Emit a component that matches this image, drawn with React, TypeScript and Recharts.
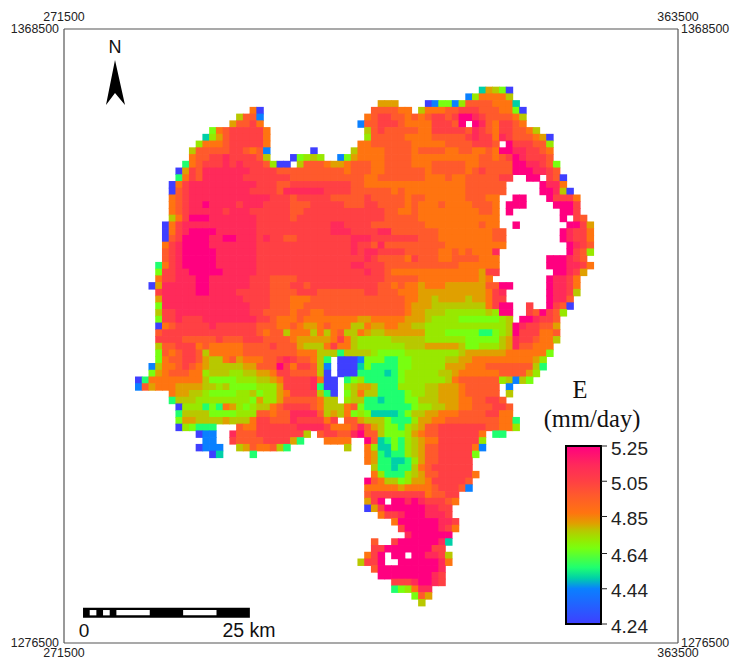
import { Bar, BarChart, ReferenceArea, Scatter, ScatterChart, XAxis, YAxis } from "recharts";

// Evaporation raster: one string per grid row, top to bottom.
// Each segment is "startColumn:codes", a code may carry a repeat count (k5 = kkkkk).
const cellRows = [
  "51:chgea",
  "49:bfi4g",
  "36:h3 43:abe2bfj4i3c",
  "17:ia 35:j4i2 42:gi3j2k3j3i2ea",
  "15:gj2b 34:ijk2j2ijijk2jkm2lkj4ig",
  "14:hj2ki 33:bj2k3ji4k3jm 50:mljik2ji",
  "11:eijk5i 34:gjkj5i2k5jlkjik2j2ig",
  "10:cfhjk5i 34:fj5i4j5klk2ilkj3iha",
  "9:fi3jk5i 33:i2j6i5j4k3j 55:mk3j2f",
  "8:gj5k2jijb 26:a 32:gi4j4ij4i2j2i2jim2l2k2ji",
  "8:ij2k2lk4jg 23:aefgf 30:behi4j4i10j2ijkmlk3j",
  "7:dijk3lklk3jfa2 24:gj3ih2ij3i2j4i3j5i2j5m2l2kje",
  "6:ahkjl7k4j10ij3i2j6ij5ijkj4m3l2kj",
  "6:dikjl6k7j11i2j7i3ji2j5k2 58:m2 61:kja",
  "5:aikl10k3j2k9j2i15j6 60:ml2i",
  "5:ajkl9k4jl6k4j6iji9j6 60:m2lga",
  "5:ijkl12k3jk5j5kj5ij2i6j3i2 56:m2 61:mk3i",
  "5:ijkl2ml4kl3k4j3k5j3k2j4iji3ji4j3i 55:m3 62:m3k",
  "5:ijkl5kl3k6j2k12j2i2ji9j2i 55:m 63:m2k",
  "5:gikm3l7k5jk13j5i12 63:m 65:kj",
  "4:aikl11k11l2k4j8i8ji2 56:m 64:m2kh",
  "4:aiklm4l6k11l3k4l2j7i8j2 63:mlk2i",
  "4:ajkm4l2m2l3klk2j2k8l3k7j3i8j2 63:mlk2i",
  "4:iklm4l7k14lk2jlj9i9 64:mlkj",
  "4:jklm5l6k14lkl2k4j5i2jiji3l 64:mkjf",
  "4:jklm5l6k16lkj4ikj3i2j4i3 61:m3lkj",
  "3:diklm5l6k14l2k3j11i6 61:m3l2ki",
  "3:ek2l2m5l5k16lk2ji13hk2 62:m2lkh",
  "3:ik2l3m2l6k3j4k13j5i9hi 61:ml2ki",
  "2:ahl5m2l6k3j3k2jk10j2iji2hi3h6j2m2 61:ml2ki",
  "3:kl5m2l4k5j4k3j7k2j3i3h10ikl 61:ml2kg",
  "3:hl12k4j3i3j14i2h2gh4gh2ik2 61:ml2j",
  "3:el13k3j3i2j15ih3g8ikm2 58:k 61:mkja",
  "3:gk2l11k2j4ij2i2j12ih2g3f6gfm2 58:kjmkjf",
  "3:ek2lk3l8k2ji3ji8h2i5h3gf4e6fg 57:m2lk2j",
  "3:aijk5lk6j3i2jih2iji3g2ih2i2h2g2f12gmlk2j2h",
  "3:jk14jij2gi3gigijg2ihg2h6f3e5d2efgmk3i2j",
  "3:k4j5kj3k3j4ih5ikigf5g5f6e5ghlk2ji2g",
  "3:gj2k3iji5j4kj3hg3iki2gf7g3h5ge2f3ghlj2i3",
  "3:ejijk2jgi5j8i3g3dg4fe4f8gh6i6e",
  "3:eij2k2jhg2ijhi3j2klkj2igd 30:a3be3d2e2f5g2h2i9hf",
  "2:bgi2jkjihg5h2j3mkik2jgb 30:a3ced4e2f5h3i3j7gd",
  "2:ehij3i2fg3f2g2h2ik2j4ga 30:a3d4cdef5g2hi6j4hf",
  "0:adi8ge4f3g2hik4lia2 31:defd5ef6gij6fgbge",
  "0:bjhi3h4g2fge4f3hk4lda2 31:fgh2gd3f4g2h3ij5 55:b",
  "5:ih2g2fe4f2gef2hik4gda 31:egig2d4ef2g2h3ij5 55:g",
  "5:dg3f8ehf2hj5ig2 31:fg2d2cd3e2g3h3i2j2k2j",
  "6:af3dedihfefg2ijk4jig3ijed7ef2g2h2i2j3k2j",
  "6:dg4e4f3j2ij2l4jghgiefec4deg2h2i3j4k2i2",
  "6:eh2g4hg3ik2j3lk4ik 31:j2hg3ed3fh2i2j8i2d",
  "6:afed3 15:ji2k6l4ki3jljhge2dfghj2k7j2i2f",
  "9:ab2 14:lj3k7g 27:jk2j2lmj2ge3fhij2k6i 53:d2",
  "10:b2 14:kj4k4hd 28:i4 34:mjcdedfghi2k6f",
  "9:ab3 15:ghji2jgd 31:g 34:ifc2edfghj2k5ib",
  "11:ac 17:d 34:ihdcd2fghj2k5e",
  "34:ihd2c2dfhj2k5",
  "35:gd2cd2gijk6",
  "35:ifd3fghj2k5i",
  "34:mjig2efh2ik5j",
  "34:i5hi4jk3jb",
  "34:jk8ij2k2",
  "34:hkm 38:m2lmlk3ji",
  "34:ahkm6l2k2",
  "36:ik2lm3l3k",
  "38:im6l2k",
  "39:km5lki",
  "40:lm6",
  "35:j 38:km6lc",
  "35:k2m7k2",
  "34:ikm 38:m2 41:m2l2kg",
  "33:gk2m 39:m6li",
  "35:jm9l",
  "36:m8lk",
  "38:k3lm2lk",
  "38:defil2",
  "41:ejh",
  "42:g",
];

const levelCodes = "abcdefghijklm";
const levelValues = [4.24, 4.44, 4.5, 4.56, 4.67, 4.72, 4.77, 4.81, 4.87, 4.97, 5.05, 5.14, 5.25];
const levelColors = [
  "#3f3fff", "#0a80ff", "#00d0a8", "#1fff70", "#78ff10", "#98e800", "#b8c800",
  "#e0a000", "#ff7410", "#ff5a2c", "#ff4044", "#ff2a5a", "#ff0080",
];
const legendTicks = [4.24, 4.44, 4.64, 4.85, 5.05, 5.25];

const eastingTicks = [271500, 363500];
const northingTicks = [1276500, 1368500];

// grid origin (upper left corner of column 0, row 0) in map metres
const gridEast = 282140;
const gridNorth = 1359860;
const cellMeters = 1010;

const scaleBarKm = [0, 25];
const scaleBarWhiteKm = [[1, 2], [3, 4], [5, 10], [15, 20]];

const PLOT = 614;
const cellPx = (cellMeters * PLOT) / (eastingTicks[1] - eastingTicks[0]);

function decodeRows() {
  const cells: { east: number; north: number; code: string }[] = [];
  cellRows.forEach((row, r) => {
    row.split(" ").forEach((segment) => {
      const [start, rle] = segment.split(":");
      let col = Number(start);
      for (const m of rle.matchAll(/([a-m])(\d*)/g)) {
        const n = m[2] ? Number(m[2]) : 1;
        for (let i = 0; i < n; i++) {
          cells.push({
            east: gridEast + (col + 0.5) * cellMeters,
            north: gridNorth - (r + 0.5) * cellMeters,
            code: m[1],
          });
          col++;
        }
      }
    });
  });
  return cells;
}

const cells = decodeRows();
const corners = [
  { east: eastingTicks[0], north: northingTicks[0] },
  { east: eastingTicks[1], north: northingTicks[1] },
];
const legendData = [{ name: "E", range: [legendTicks[0], legendTicks[legendTicks.length - 1]] }];

function RasterCell(props: any) {
  const { cx, cy, payload } = props;
  return (
    <rect
      x={cx - cellPx / 2}
      y={cy - cellPx / 2}
      width={cellPx + 0.7}
      height={cellPx + 0.7}
      fill={levelColors[levelCodes.indexOf(payload.code)]}
    />
  );
}

const FRAME = "#555555";
const tickStyle = { fontSize: 12.4, fontFamily: "Liberation Sans", fill: "#222222" };
const axisLine = { stroke: FRAME, strokeWidth: 1.2 };

const BAR_EAST = 274350;
const BAR_TOP = 1281790;
const BAR_BOTTOM = 1280290;
const BAR_INSET = 350;

export default function App() {
  return (
    <div style={{ position: "absolute", left: 0, top: 0, width: 733, height: 660, background: "#fff" }}>
      <ScatterChart width={733} height={660} margin={{ top: 0, right: 0, bottom: 0, left: 0 }}>
        <XAxis
          xAxisId="bottom"
          orientation="bottom"
          type="number"
          dataKey="east"
          domain={[eastingTicks[0], eastingTicks[1]]}
          ticks={eastingTicks}
          interval={0}
          height={17}
          tickLine={false}
          tickSize={0}
          tickMargin={5}
          axisLine={axisLine}
          tick={tickStyle}
          tickFormatter={String}
        />
        <XAxis
          xAxisId="top"
          orientation="top"
          type="number"
          dataKey="east"
          domain={[eastingTicks[0], eastingTicks[1]]}
          ticks={eastingTicks}
          interval={0}
          height={29}
          tickLine={false}
          tickSize={0}
          tickMargin={8}
          axisLine={axisLine}
          tick={tickStyle}
          tickFormatter={String}
        />
        <YAxis
          yAxisId="left"
          orientation="left"
          type="number"
          dataKey="north"
          domain={[northingTicks[0], northingTicks[1]]}
          ticks={northingTicks}
          interval={0}
          width={64}
          tickLine={false}
          tickSize={0}
          tickMargin={5}
          axisLine={axisLine}
          tick={tickStyle}
          tickFormatter={String}
        />
        <YAxis
          yAxisId="right"
          orientation="right"
          type="number"
          dataKey="north"
          domain={[northingTicks[0], northingTicks[1]]}
          ticks={northingTicks}
          interval={0}
          width={55}
          tickLine={false}
          tickSize={0}
          tickMargin={3}
          axisLine={axisLine}
          tick={tickStyle}
          tickFormatter={String}
        />
        <Scatter
          data={corners}
          xAxisId="top"
          yAxisId="right"
          shape={() => <g />}
          isAnimationActive={false}
        />
        <Scatter
          data={cells}
          xAxisId="bottom"
          yAxisId="left"
          shape={RasterCell}
          isAnimationActive={false}
        />
        <ReferenceArea
          xAxisId="bottom"
          yAxisId="left"
          x1={BAR_EAST + scaleBarKm[0] * 1000}
          x2={BAR_EAST + scaleBarKm[1] * 1000}
          y1={BAR_BOTTOM}
          y2={BAR_TOP}
          fill="#000000"
          fillOpacity={1}
          stroke="none"
        />
        {scaleBarWhiteKm.map(([from, to]) => (
          <ReferenceArea
            key={from}
            xAxisId="bottom"
            yAxisId="left"
            x1={BAR_EAST + from * 1000}
            x2={BAR_EAST + to * 1000}
            y1={BAR_BOTTOM + BAR_INSET}
            y2={BAR_TOP - BAR_INSET}
            fill="#ffffff"
            fillOpacity={1}
            stroke="none"
          />
        ))}
      </ScatterChart>

      {/* colour key */}
      <div style={{ position: "absolute", left: 560, top: 435 }}>
        <BarChart
          width={173}
          height={206}
          data={legendData}
          barCategoryGap={0}
          margin={{ top: 11, right: 0, bottom: 17, left: 6 }}
        >
          <defs>
            <linearGradient id="eRamp" x1="0" y1="0" x2="0" y2="1">
              {levelValues
                .map((v, i) => ({ offset: (5.25 - v) / (5.25 - 4.24), color: levelColors[i] }))
                .reverse()
                .map((s) => (
                  <stop key={s.offset} offset={s.offset} stopColor={s.color} />
                ))}
            </linearGradient>
          </defs>
          <XAxis dataKey="name" hide />
          <YAxis
            orientation="right"
            type="number"
            domain={[4.24, 5.25]}
            ticks={legendTicks}
            interval={0}
            width={132}
            axisLine={false}
            tickSize={6}
            tickMargin={4}
            tickLine={{ stroke: "#222222", strokeWidth: 1 }}
            tick={{ fontSize: 19, fontFamily: "Liberation Sans", fill: "#222222", dy: 2 }}
            tickFormatter={(v: number) => v.toFixed(2)}
          />
          <Bar
            dataKey="range"
            fill="url(#eRamp)"
            stroke="#000000"
            strokeWidth={2}
            isAnimationActive={false}
          />
        </BarChart>
      </div>

      {/* annotations */}
      <svg
        width={733}
        height={660}
        style={{ position: "absolute", left: 0, top: 0, pointerEvents: "none" }}
      >
        <text x={115} y={53} textAnchor="middle" fontSize={18} fontFamily="Liberation Sans" fill="#111">
          N
        </text>
        <path d="M115 60 L125 105 L115 93 L106 105 Z" fill="#000" />
        <text x={84} y={637} textAnchor="middle" fontSize={19} fontFamily="Liberation Sans" fill="#111">
          0
        </text>
        <text x={249} y={637} textAnchor="middle" fontSize={19.5} fontFamily="Liberation Sans" fill="#111">
          25 km
        </text>
        <text x={580} y={398} textAnchor="middle" fontSize={24.5} fontFamily="Liberation Serif" fill="#111">
          E
        </text>
        <text x={592} y={427} textAnchor="middle" fontSize={24.5} fontFamily="Liberation Serif" fill="#111">
          (mm/day)
        </text>
      </svg>
    </div>
  );
}
